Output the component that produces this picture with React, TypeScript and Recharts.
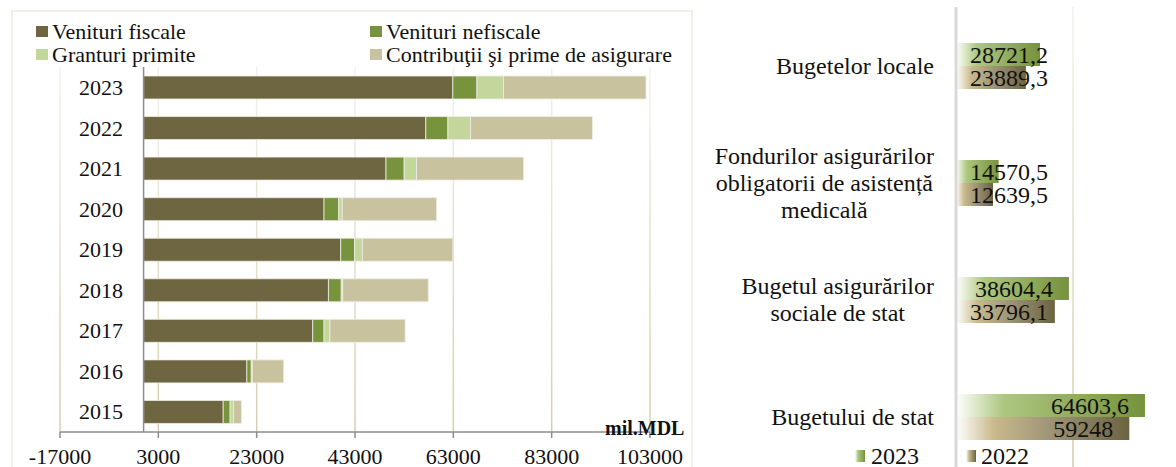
import React from 'react';
import { BarChart, Bar, XAxis, YAxis, CartesianGrid, LabelList, ReferenceLine } from 'recharts';

const FONT = '"Liberation Serif", "Times New Roman", serif';

// left chart: structure of revenues, mil. MDL
const years = ['2015', '2016', '2017', '2018', '2019', '2020', '2021', '2022', '2023'];
const venituriFiscale = [16200, 21000, 34400, 37600, 40100, 36700, 49300, 57400, 62900];
const venituriNefiscale = [1400, 900, 2300, 2600, 2800, 3000, 3700, 4500, 4900];
const granturiPrimite = [700, 200, 1200, 300, 1600, 700, 2500, 4600, 5400];
const contributii = [1600, 6400, 15300, 17400, 18400, 19200, 21800, 24800, 29000];
const xTicks = [-17000, 3000, 23000, 43000, 63000, 83000, 103000];

// right chart: revenues by budget component
const bugete = [
  'Bugetelor locale',
  'Fondurilor asigurărilor\nobligatorii de asistență\nmedicală',
  'Bugetul asigurărilor\nsociale de stat',
  'Bugetului de stat',
];
const valori2023 = [28721.2, 14570.5, 38604.4, 64603.6];
const valori2022 = [23889.3, 12639.5, 33796.1, 59248];

const leftSeries = [
  { key: 'fiscale', name: 'Venituri fiscale', color: '#6e6640' },
  { key: 'nefiscale', name: 'Venituri nefiscale', color: '#77933c' },
  { key: 'granturi', name: 'Granturi primite', color: '#c3d69b' },
  { key: 'contributii', name: 'Contribuţii şi prime de asigurare', color: '#c8c29e' },
];

const leftData = years.map((year, i) => ({
  year,
  fiscale: venituriFiscale[i],
  nefiscale: venituriNefiscale[i],
  granturi: granturiPrimite[i],
  contributii: contributii[i],
}));

const rightData = bugete.map((buget, i) => ({
  buget,
  v2023: valori2023[i],
  v2022: valori2022[i],
}));

const GRAD_2023 = 'linear-gradient(to right, #ffffff, #adc77f 30%, #76923c)';
const GRAD_2022 = 'linear-gradient(to right, #ffffff, #c9b98b 30%, #6b6340)';

let ctx: CanvasRenderingContext2D | null = null;
const textWidth = (s: string, font: string) => {
  if (!ctx) ctx = document.createElement('canvas').getContext('2d');
  if (!ctx) return s.length * 11;
  ctx.font = font;
  return ctx.measureText(s).width;
};

const YearTick = (props: any) => {
  const { y, payload } = props;
  return (
    <text x={123} y={y} dy="0.35em" textAnchor="end" fontSize={22} fill="#111" fontFamily={FONT}>
      {payload.value}
    </text>
  );
};

const BudgetTick = (props: any) => {
  const { x, y, payload } = props;
  const lines = String(payload.value).split('\n');
  const w = Math.max(...lines.map((l) => textWidth(l, `24px ${FONT}`)));
  const cx = x - w / 2;
  const lh = 27;
  const start = y - ((lines.length - 1) * lh) / 2;
  return (
    <text textAnchor="middle" fontSize={24} fill="#111" fontFamily={FONT}>
      {lines.map((l, i) => (
        <tspan key={i} x={cx} y={start + i * lh} dy="0.35em">
          {l}
        </tspan>
      ))}
    </text>
  );
};

const ValueLabel = (props: any) => {
  const x = Number(props.x);
  const y = Number(props.y);
  const width = Number(props.width);
  const height = Number(props.height);
  const end = Math.max(x + width - 16, x + 92);
  return (
    <text x={end} y={y + height / 2} dy="0.36em" textAnchor="end" fontSize={24} fill="#111" fontFamily={FONT}>
      {String(props.value).replace('.', ',')}
    </text>
  );
};

const LeftLegend = () => (
  <div
    style={{
      position: 'absolute',
      left: 36,
      top: 20,
      display: 'grid',
      gridTemplateColumns: '334px 330px',
      fontFamily: FONT,
      fontSize: 22,
      lineHeight: '23px',
      color: '#111',
    }}
  >
    {leftSeries.map((s) => (
      <div key={s.key} style={{ display: 'flex', alignItems: 'center', whiteSpace: 'nowrap' }}>
        <span style={{ width: 12, height: 11, background: s.color, marginRight: 4, display: 'inline-block' }} />
        {s.name}
      </div>
    ))}
  </div>
);

const RightLegend = () => (
  <div
    style={{
      position: 'absolute',
      left: 855,
      top: 444,
      display: 'flex',
      fontFamily: FONT,
      fontSize: 24,
      lineHeight: '24px',
      color: '#111',
    }}
  >
    <div style={{ display: 'flex', alignItems: 'center', marginRight: 47 }}>
      <span style={{ width: 10, height: 12, background: GRAD_2023, marginRight: 6, display: 'inline-block' }} />
      2023
    </div>
    <div style={{ display: 'flex', alignItems: 'center' }}>
      <span style={{ width: 10, height: 12, background: GRAD_2022, marginRight: 5, display: 'inline-block' }} />
      2022
    </div>
  </div>
);

export default function App() {
  return (
    <div
      style={{
        position: 'absolute',
        left: 0,
        top: 0,
        width: 1176,
        height: 467,
        overflow: 'hidden',
        background: '#ffffff',
        fontFamily: FONT,
      }}
    >
      <div
        style={{
          position: 'absolute',
          left: 11,
          top: 10,
          width: 678,
          height: 470,
          border: '2px solid #f2efe6',
        }}
      />
      <div style={{ position: 'absolute', left: 0, top: 0 }}>
        <BarChart
          width={700}
          height={467}
          data={leftData}
          layout="vertical"
          margin={{ top: 67, right: 50, bottom: 0, left: 0 }}
          barSize={23}
        >
          <defs>
            <linearGradient id="gridLeft" gradientUnits="userSpaceOnUse" x1="0" y1="67" x2="0" y2="432">
              <stop offset="0" stopColor="#f3f1ea" />
              <stop offset="1" stopColor="#d6cfae" />
            </linearGradient>
          </defs>
          <CartesianGrid horizontal={false} vertical stroke="url(#gridLeft)" strokeWidth={1.5} />
          <XAxis
            type="number"
            domain={[-17000, 103000]}
            ticks={xTicks}
            interval={0}
            height={35}
            axisLine={{ stroke: '#8c8c8c', strokeWidth: 1.5 }}
            tickLine={{ stroke: '#8c8c8c', strokeWidth: 1.5 }}
            tickSize={6}
            tickMargin={10}
            tick={{ fontSize: 22, fill: '#111', fontFamily: FONT }}
          />
          <YAxis
            type="category"
            dataKey="year"
            reversed
            width={60}
            axisLine={false}
            tickLine={false}
            tick={<YearTick />}
            interval={0}
          />
          <ReferenceLine x={0} stroke="#8c8c8c" strokeWidth={1.5} />
          {leftSeries.map((s) => (
            <Bar
              key={s.key}
              dataKey={s.key}
              name={s.name}
              stackId="a"
              fill={s.color}
              stroke="#f0eee6"
              strokeWidth={0.8}
              isAnimationActive={false}
            />
          ))}
        </BarChart>
      </div>
      <LeftLegend />
      <div
        style={{
          position: 'absolute',
          left: 605,
          top: 416,
          fontFamily: FONT,
          fontSize: 20,
          fontWeight: 'bold',
          lineHeight: '24px',
          color: '#111',
        }}
      >
        mil.MDL
      </div>
      <div style={{ position: 'absolute', left: 700, top: 0 }}>
        <BarChart
          width={490}
          height={475}
          data={rightData}
          layout="vertical"
          margin={{ top: 7, right: 0, bottom: 0, left: 0 }}
          barSize={23}
          barGap={0}
        >
          <defs>
            <linearGradient id="grad2023" x1="0" y1="0" x2="1" y2="0">
              <stop offset="0" stopColor="#ffffff" />
              <stop offset="0.25" stopColor="#adc77f" />
              <stop offset="1" stopColor="#76923c" />
            </linearGradient>
            <linearGradient id="grad2022" x1="0" y1="0" x2="1" y2="0">
              <stop offset="0" stopColor="#ffffff" />
              <stop offset="0.22" stopColor="#c9b98b" />
              <stop offset="0.55" stopColor="#9d9477" />
              <stop offset="1" stopColor="#6b6340" />
            </linearGradient>
            <linearGradient id="gridRight" gradientUnits="userSpaceOnUse" x1="0" y1="7" x2="0" y2="467">
              <stop offset="0" stopColor="#f4f2ec" />
              <stop offset="1" stopColor="#d3cbab" />
            </linearGradient>
          </defs>
          <CartesianGrid horizontal={false} vertical stroke="url(#gridRight)" strokeWidth={1.5} />
          <XAxis type="number" domain={[0, 80000]} ticks={[0, 40000, 80000]} hide />
          <YAxis
            type="category"
            dataKey="buget"
            width={256}
            axisLine={{ stroke: '#d9d9d9', strokeWidth: 3 }}
            tickLine={false}
            tickSize={0}
            tickMargin={22}
            tick={<BudgetTick />}
            interval={0}
          />
          <Bar dataKey="v2023" name="2023" fill="url(#grad2023)" isAnimationActive={false}>
            <LabelList dataKey="v2023" content={<ValueLabel />} />
          </Bar>
          <Bar dataKey="v2022" name="2022" fill="url(#grad2022)" isAnimationActive={false}>
            <LabelList dataKey="v2022" content={<ValueLabel />} />
          </Bar>
        </BarChart>
      </div>
      <RightLegend />
    </div>
  );
}
